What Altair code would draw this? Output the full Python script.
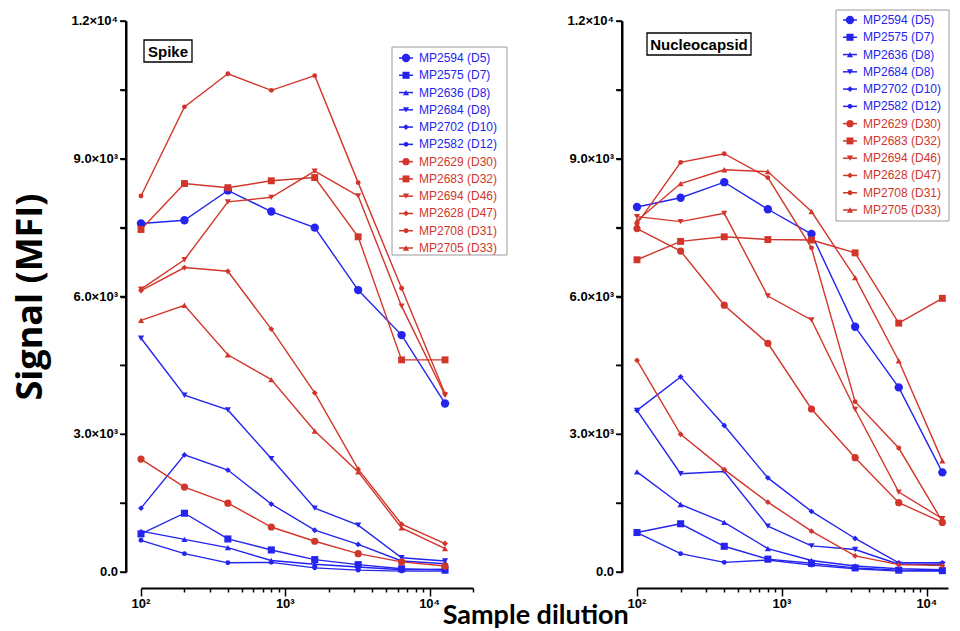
import altair as alt
import pandas as pd

DILUTIONS = [100, 200, 400, 800, 1600, 3200, 6400, 12800]

SERIES = ["MP2594 (D5)", "MP2575 (D7)", "MP2636 (D8)", "MP2684 (D8)", "MP2702 (D10)", "MP2582 (D12)",
          "MP2629 (D30)", "MP2683 (D32)", "MP2694 (D46)", "MP2628 (D47)", "MP2708 (D31)", "MP2705 (D33)"]

# Spike panel values (MFI), one list per serum, in dilution order
SPIKE_MP2594 = [7590, 7660, 8310, 7850, 7500, 6140, 5160, 3670]
SPIKE_MP2575 = [830, 1280, 720, 480, 270, 160, 70, 40]
SPIKE_MP2636 = [890, 710, 530, 250, 170, 110, 50, 60]
SPIKE_MP2684 = [5090, 3850, 3530, 2470, 1390, 1020, 310, 240]
SPIKE_MP2702 = [1390, 2550, 2220, 1480, 910, 600, 240, 180]
SPIKE_MP2582 = [690, 400, 200, 210, 90, 40, 20, 20]
SPIKE_MP2629 = [2460, 1850, 1500, 980, 670, 400, 220, 130]
SPIKE_MP2683 = [7460, 8460, 8370, 8520, 8590, 7300, 4620, 4620]
SPIKE_MP2694 = [6160, 6800, 8060, 8160, 8730, 8190, 5790, 3850]
SPIKE_MP2628 = [6130, 6630, 6550, 5290, 3900, 2240, 1040, 620]
SPIKE_MP2708 = [8190, 10130, 10850, 10490, 10810, 8480, 6180, 3880]
SPIKE_MP2705 = [5480, 5810, 4730, 4190, 3070, 2180, 960, 510]

# Nucleocapsid panel values (MFI)
NUC_MP2594 = [7950, 8150, 8490, 7900, 7360, 5340, 4020, 2170]
NUC_MP2575 = [860, 1050, 560, 280, 190, 90, 40, 30]
NUC_MP2636 = [2180, 1470, 1080, 510, 250, 130, 70, 50]
NUC_MP2684 = [3520, 2140, 2190, 1000, 570, 490, 170, 170]
NUC_MP2702 = [3520, 4250, 3190, 2050, 1320, 730, 200, 200]
NUC_MP2582 = [860, 400, 210, 260, 150, 70, 20, 20]
NUC_MP2629 = [7480, 6990, 5810, 4980, 3550, 2490, 1510, 1080]
NUC_MP2683 = [6800, 7200, 7300, 7240, 7230, 6950, 5420, 5960]
NUC_MP2694 = [7740, 7630, 7810, 6010, 5490, 3540, 1740, 1160]
NUC_MP2628 = [4610, 3000, 2230, 1520, 890, 350, 160, 140]
NUC_MP2708 = [7580, 8920, 9110, 8590, 7060, 3710, 2700, 1100]
NUC_MP2705 = [7650, 8460, 8760, 8720, 7850, 6410, 4600, 2420]

SPIKE = [SPIKE_MP2594, SPIKE_MP2575, SPIKE_MP2636, SPIKE_MP2684, SPIKE_MP2702, SPIKE_MP2582,
         SPIKE_MP2629, SPIKE_MP2683, SPIKE_MP2694, SPIKE_MP2628, SPIKE_MP2708, SPIKE_MP2705]
NUC = [NUC_MP2594, NUC_MP2575, NUC_MP2636, NUC_MP2684, NUC_MP2702, NUC_MP2582,
       NUC_MP2629, NUC_MP2683, NUC_MP2694, NUC_MP2628, NUC_MP2708, NUC_MP2705]

# axis ticks and tick labels
Y_TICKS = [0, 1500, 3000, 4500, 6000, 7500, 9000, 10500, 12000]
Y_LABEL_VALUES = [0, 3000, 6000, 9000, 12000]
Y_LABEL_TEXT = ["0.0", "3.0×10³", "6.0×10³", "9.0×10³", "1.2×10⁴"]
Y_MIN, Y_MAX = 0, 12000
X_MAJOR = [100, 1000, 10000]
X_LABEL_TEXT = ["10²", "10³", "10⁴"]
X_MINOR = [200, 300, 400, 500, 600, 700, 800, 900,
           2000, 3000, 4000, 5000, 6000, 7000, 8000, 9000, 20000]

# ---- style ----
BLUE = "#2424ee"
RED = "#d2362a"
COLORS = [BLUE] * 6 + [RED] * 6
SHAPES = ["circle", "square", "triangle-up", "triangle-down", "diamond", "circle",
          "circle", "square", "triangle-down", "diamond", "circle", "triangle-up"]
MARKER_SIZES = [70, 50, 38, 38, 34, 24, 52, 48, 38, 34, 24, 38]
TICK_FONT = "Liberation Sans"

color_scale = alt.Scale(domain=SERIES, range=COLORS)
shape_scale = alt.Scale(domain=SERIES, range=SHAPES)


def build_frame(values):
    rows = []
    for name, vals in zip(SERIES, values):
        for d, v in zip(DILUTIONS, vals):
            rows.append({"series": name, "dilution": d, "signal": v})
    return pd.DataFrame(rows)


def size_expr():
    expr = "24"
    for name, s in zip(SERIES, MARKER_SIZES):
        expr = f"datum.series === '{name}' ? {s} : ({expr})"
    return expr


def legend_layer(cx, rows_top, rows_bottom, box):
    bl, br, bt, bb = box
    ldf = pd.DataFrame({"series": SERIES})
    ly = alt.Y("series:N", axis=None,
               scale=alt.Scale(type="point", domain=SERIES, range=[rows_top, rows_bottom], padding=0))
    col = alt.Color("series:N", scale=color_scale, legend=None)
    frame = alt.Chart(ldf.iloc[:1]).mark_rect(fill="white", stroke="#9a9a9a", strokeWidth=1).encode(
        x=alt.value(bl), x2=alt.value(br), y=alt.value(bt), y2=alt.value(bb))
    seg = alt.Chart(ldf).mark_rule(strokeWidth=1.5).encode(
        x=alt.value(cx - 7), x2=alt.value(cx + 7), y=ly, color=col)
    sym = alt.Chart(ldf).transform_calculate(msize=size_expr()).mark_point(
        filled=True, opacity=1).encode(
        x=alt.value(cx), y=ly, color=col,
        shape=alt.Shape("series:N", scale=shape_scale, legend=None),
        size=alt.Size("msize:Q", scale=None))
    txt = alt.Chart(ldf).mark_text(align="left", baseline="middle", font=TICK_FONT,
                                   fontSize=12).encode(
        x=alt.value(cx + 13), y=ly, text="series:N", color=col)
    return alt.layer(frame, seg, sym, txt)


def panel(values, label, xmax, width, box, leg, show_title):
    df = build_frame(values)
    xscale = alt.Scale(type="log", domain=[100, xmax], nice=False)
    yscale = alt.Scale(domain=[Y_MIN, Y_MAX], nice=False)
    x_major = alt.X("dilution:Q", title=None, scale=xscale,
                    axis=alt.Axis(orient="bottom", values=X_MAJOR, labels=False,
                                  tickSize=8, offset=16))
    x_minor = alt.X("dilution:Q", title=None, scale=xscale,
                    axis=alt.Axis(orient="bottom", values=[v for v in X_MINOR if v <= xmax],
                                  labels=False, domain=False, tickSize=4, offset=16))
    y = alt.Y("signal:Q", title="Signal (MFI)" if show_title else None, scale=yscale,
              axis=alt.Axis(values=Y_TICKS, labels=False, tickSize=6, offset=15, titleX=-77))
    col = alt.Color("series:N", scale=color_scale, legend=None)

    base = alt.Chart(df)
    lines = base.mark_line(strokeWidth=1.4).encode(x=x_major, y=y, color=col)
    points = base.transform_calculate(msize=size_expr()).mark_point(filled=True, opacity=1).encode(
        x=x_minor, y=y, color=col,
        shape=alt.Shape("series:N", scale=shape_scale, legend=None),
        size=alt.Size("msize:Q", scale=None),
    )
    xlab = alt.Chart(pd.DataFrame({"v": X_MAJOR, "t": X_LABEL_TEXT})).mark_text(
        font=TICK_FONT, fontSize=13, fontWeight="bold", align="center", baseline="middle",
        color="black").encode(
        x=alt.X("v:Q", scale=xscale, axis=None), y=alt.value(583), text="t:N")
    ylab = alt.Chart(pd.DataFrame({"signal": Y_LABEL_VALUES, "t": Y_LABEL_TEXT})).mark_text(
        font=TICK_FONT, fontSize=13, fontWeight="bold", align="right", baseline="middle",
        color="black").encode(x=alt.value(-23), y=y, text="t:N")
    # y axis line and ticks, drawn through the y scale
    ydom = alt.Chart(pd.DataFrame({"signal": [Y_MIN], "signal_end": [Y_MAX]})).mark_rule(
        color="black", strokeWidth=2).encode(
        x=alt.value(-15), y=y, y2=alt.Y2("signal_end:Q"))
    ytk = alt.Chart(pd.DataFrame({"signal": Y_TICKS})).mark_rule(
        color="black", strokeWidth=1.5).encode(
        x=alt.value(-21), x2=alt.value(-15), y=y)

    bx0, bx1, by0, by1 = box
    lab = pd.DataFrame({"t": [label]})
    rect = alt.Chart(lab).mark_rect(fill="white", stroke="black", strokeWidth=1.3).encode(
        x=alt.value(bx0), x2=alt.value(bx1), y=alt.value(by0), y2=alt.value(by1))
    text = alt.Chart(lab).mark_text(font=TICK_FONT, fontSize=15, fontWeight="bold",
                                    align="center", baseline="middle", color="black").encode(
        x=alt.value((bx0 + bx1) / 2), y=alt.value((by0 + by1) / 2 + 1), text="t:N")

    inner = alt.layer(lines, points, ylab, ydom, ytk, xlab, rect, text).resolve_axis(x="independent")
    return alt.layer(inner, legend_layer(*leg)).resolve_scale(y="independent").properties(
        width=width, height=551)


left = panel(SPIKE, "Spike", 20000, 332, (3, 51, 19, 41),
             (265, 37, 227, (251, 366, 26, 234)), True)
right = panel(NUC, "Nucleocapsid", 14000, 311, (10, 114, 12, 34),
              (213, -1, 189, (199, 312, -11, 200)), False)

chart = alt.hconcat(left, right, spacing=59).properties(
    title=alt.TitleParams("Sample dilution", orient="bottom", anchor="middle", fontSize=27,
                          font="Lato", fontWeight="bold", color="black", dx=55, offset=-8),
    padding={"left": 4, "top": 1, "right": 0, "bottom": 0},
).configure_view(stroke=None).configure_axis(
    grid=False, domainWidth=2, domainColor="black", tickColor="black", tickWidth=1.5,
    titleFont="Open Sans", titleFontSize=36, titleFontWeight="bold",
    titleColor="black", titlePadding=52,
)

chart.save("out.html", embed_options={"renderer": "svg", "actions": False})
